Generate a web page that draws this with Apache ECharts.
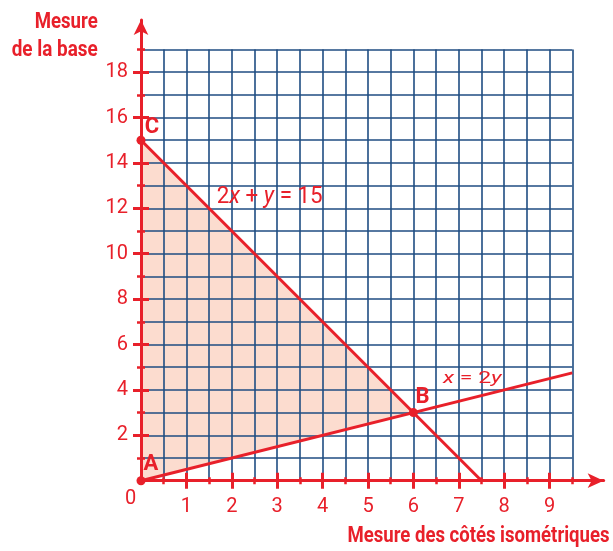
<!DOCTYPE html>
<html><head><meta charset="utf-8">
<script src="https://cdn.jsdelivr.net/npm/echarts@6/dist/echarts.min.js"></script>
<style>html,body{margin:0;padding:0;background:#fff}#c{width:613px;height:551px}</style>
</head><body><div id="c"></div>
<script>
// ---- data ----
const xTickLabels = [1, 2, 3, 4, 5, 6, 7, 8, 9];
const yTickLabels = [2, 4, 6, 8, 10, 12, 14, 16, 18];
const xMajorTicks = [1, 2, 3, 4, 5, 6, 7, 8, 9];
const xMinorTicks = [0.5, 1.5, 2.5, 3.5, 4.5, 5.5, 6.5, 7.5, 8.5, 9.5];
const yMajorTicks = [2, 4, 6, 8, 10, 12, 14, 16, 18];
const yMinorTicks = [1, 3, 5, 7, 9, 11, 13, 15, 17, 19];
const lineBaseX = [0, 7.5];      // 2x + y = 15
const lineBaseY = [15, 0];
const lineRatioX = [0, 9.5];     // x = 2y
const lineRatioY = [0, 4.75];
const regionX = [0, 6, 0];       // feasible region A, B, C
const regionY = [0, 3, 15];
const vertexNames = ['A', 'B', 'C'];
const vertexX = [0, 6, 0];
const vertexY = [0, 3, 15];
const gridXMax = 9.5, gridYMax = 19;
const axisXMax = 10.19, axisYMax = 20.29;

// ---- layout / style ----
const RED = '#e8202a', GRIDC = '#1f4d82', FILL = '#fcdccf';
const FONT = "Roboto, 'Liberation Sans', sans-serif";
const ox = 141, oy = 480.7, ux = 45.4, uy = 22.7;
const labelOffsets = [[10, 3], [9, 4], [11, 7]];

const ctx = document.createElement('canvas').getContext('2d');
function textW(font, t) { ctx.font = font; return ctx.measureText(t).width; }
function fit(parts, target) {
  let w = 0; parts.forEach(p => { w += textW(p[0], p[1]); });
  return target / w;
}
const titleFont = "bold 22px " + FONT;
const eq1N = "23px " + FONT, eq1V = "italic 23px " + FONT;
const eq2N = "17px " + FONT, eq2V = "italic 17px " + FONT;

const chart = echarts.init(document.getElementById('c'), null, {renderer: 'canvas'});

function redX(opts) {
  return Object.assign({
    gridIndex: 1, type: 'value', min: 0, max: axisXMax, position: 'bottom', z: 2,
    axisLine: {show: false}, splitLine: {show: false}, axisLabel: {show: false}
  }, opts);
}
function redY(opts) {
  return Object.assign({
    gridIndex: 1, type: 'value', min: 0, max: axisYMax, position: 'left', z: 2,
    axisLine: {show: false}, splitLine: {show: false}, axisLabel: {show: false}
  }, opts);
}
const majorTickStyle = {color: RED, width: 3};
const minorTickStyle = {color: RED, width: 2.5};

const option = {
  animation: false,
  backgroundColor: '#fff',
  grid: [
    {left: ox, top: oy - gridYMax * uy, width: gridXMax * ux, height: gridYMax * uy},
    {left: ox, top: oy - axisYMax * uy, width: axisXMax * ux, height: axisYMax * uy}
  ],
  xAxis: [
    {gridIndex: 0, type: 'value', min: 0, max: gridXMax, interval: 0.5, z: 1,
     axisLine: {show: false}, axisTick: {show: false}, axisLabel: {show: false},
     splitLine: {show: true, lineStyle: {color: GRIDC, width: 1.6}}},
    redX({
      axisLine: {show: true, onZero: false, symbol: ['none', 'arrow'], symbolSize: [11, 16], lineStyle: {color: RED, width: 3}},
      axisTick: {show: true, customValues: xMajorTicks, length: 8, inside: false, lineStyle: majorTickStyle},
      axisLabel: {show: true, customValues: xTickLabels, margin: 16, color: RED, fontFamily: FONT, fontSize: 20}
    }),
    redX({axisTick: {show: true, customValues: xMajorTicks, length: 8, inside: true, lineStyle: majorTickStyle}}),
    redX({axisTick: {show: true, customValues: xMinorTicks, length: 3.5, inside: false, lineStyle: minorTickStyle}}),
    redX({axisTick: {show: true, customValues: xMinorTicks, length: 3.5, inside: true, lineStyle: minorTickStyle}})
  ],
  yAxis: [
    {gridIndex: 0, type: 'value', min: 0, max: gridYMax, interval: 1, z: 1,
     axisLine: {show: false}, axisTick: {show: false}, axisLabel: {show: false},
     splitLine: {show: true, lineStyle: {color: GRIDC, width: 1.6}}},
    redY({
      axisLine: {show: true, onZero: false, symbol: ['none', 'arrow'], symbolSize: [11, 15], lineStyle: {color: RED, width: 3}},
      axisTick: {show: true, customValues: yMajorTicks, length: 8, inside: false, lineStyle: majorTickStyle},
      axisLabel: {show: true, customValues: yTickLabels, margin: 13, color: RED, fontFamily: FONT, fontSize: 20}
    }),
    redY({axisTick: {show: true, customValues: yMajorTicks, length: 8, inside: true, lineStyle: majorTickStyle}}),
    redY({axisTick: {show: true, customValues: yMinorTicks, length: 4, inside: false, lineStyle: minorTickStyle}}),
    redY({axisTick: {show: true, customValues: yMinorTicks, length: 4, inside: true, lineStyle: minorTickStyle}})
  ],
  series: [
    {type: 'custom', xAxisIndex: 0, yAxisIndex: 0, z: 0, silent: true,
     data: [[0, 0]],
     renderItem: function (params, api) {
       const pts = regionX.map((x, i) => api.coord([x, regionY[i]]));
       return {type: 'polygon', shape: {points: pts}, style: {fill: FILL}};
     }},
    {type: 'line', xAxisIndex: 0, yAxisIndex: 0, z: 3, symbol: 'none', silent: true,
     data: lineBaseX.map((x, i) => [x, lineBaseY[i]]),
     lineStyle: {color: RED, width: 3}},
    {type: 'line', xAxisIndex: 0, yAxisIndex: 0, z: 3, symbol: 'none', silent: true,
     data: lineRatioX.map((x, i) => [x, lineRatioY[i]]),
     lineStyle: {color: RED, width: 3}},
    {type: 'scatter', xAxisIndex: 0, yAxisIndex: 0, z: 4, symbolSize: 9, silent: true,
     itemStyle: {color: RED, opacity: 1},
     data: vertexNames.map((n, i) => ({name: n, value: [vertexX[i], vertexY[i]],
       label: {offset: labelOffsets[i]}})),
     label: {show: true, position: 'top', distance: 4, formatter: '{b}', color: RED, opacity: 1,
             fontFamily: FONT, fontWeight: 'bold', fontSize: 22}}
  ],
  graphic: [
    {type: 'text', x: 97.7, y: 22, z: 10, silent: true, scaleX: fit([[titleFont, 'Mesure']], 63),
     style: {text: 'Mesure', fill: RED, font: titleFont, align: 'right', verticalAlign: 'middle'}},
    {type: 'text', x: 97.7, y: 50, z: 10, silent: true, scaleX: fit([[titleFont, 'de la base']], 86),
     style: {text: 'de la base', fill: RED, font: titleFont, align: 'right', verticalAlign: 'middle'}},
    {type: 'text', x: 609.5, y: 536.5, z: 10, silent: true,
     scaleX: fit([[titleFont, 'Mesure des côtés isométriques']], 262),
     style: {text: 'Mesure des côtés isométriques', fill: RED, font: titleFont,
             align: 'right', verticalAlign: 'middle'}},
    {type: 'text', x: 130.5, y: 499, z: 10, silent: true,
     style: {text: '0', fill: RED, font: "20px " + FONT, align: 'center', verticalAlign: 'middle'}},
    {type: 'text', x: 216.7, y: 197, z: 10, silent: true,
     scaleX: fit([[eq1N, '2'], [eq1V, 'x'], [eq1N, ' + '], [eq1V, 'y'], [eq1N, ' = 15']], 106),
     style: {text: '{n|2}{v|x}{n| + }{v|y}{n| = 15}', align: 'left', verticalAlign: 'middle',
             rich: {n: {fill: RED, font: eq1N}, v: {fill: RED, font: eq1V}}}},
    {type: 'text', x: 443, y: 379, z: 10, silent: true,
     scaleX: fit([[eq2V, 'x'], [eq2N, ' = 2'], [eq2V, 'y']], 58.7),
     style: {text: '{v|x}{n| = 2}{v|y}', align: 'left', verticalAlign: 'middle',
             rich: {n: {fill: RED, font: eq2N}, v: {fill: RED, font: eq2V}}}}
  ]
};
chart.setOption(option);
</script></body></html>
